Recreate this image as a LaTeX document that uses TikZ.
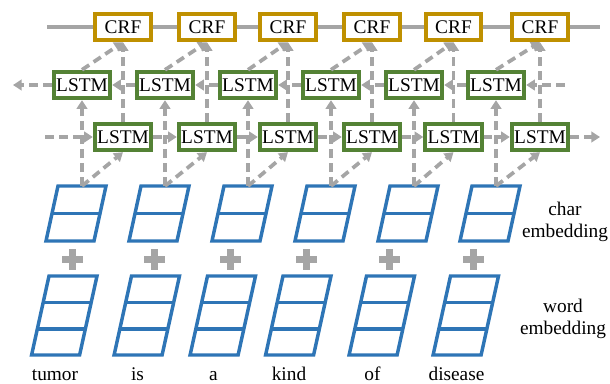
\documentclass[tikz,border=0pt]{standalone}
\usepackage{fontspec}
\setmainfont{Liberation Serif}
\newfontfamily\labelfont{Liberation Serif}
\usetikzlibrary{arrows.meta, positioning}

\definecolor{crfgold}{HTML}{BF9000}
\definecolor{lstmgreen}{HTML}{548235}
\definecolor{embblue}{HTML}{2E75B6}
\definecolor{linkgray}{HTML}{A5A5A5}

\tikzset{
  crfbox/.style={draw=crfgold, line width=2.8pt, fill=white, minimum width=41.5pt, minimum height=20pt, inner sep=0pt},
  lstmbox/.style={draw=lstmgreen, line width=2.8pt, fill=white, minimum width=42.5pt, minimum height=20pt, inner sep=0pt},
  flow/.style={draw=linkgray, line width=2.8pt, dash pattern=on 6.5pt off 4pt, -{Triangle[length=6.5pt,width=8pt]}},
  chain/.style={draw=linkgray, line width=2.8pt},
  emb/.style={draw=embblue, line width=2.6pt, line join=miter},
}

\begin{document}
\begin{tikzpicture}[x=0.75pt, y=-0.75pt, font=\labelfont\fontsize{14.5}{17}\selectfont]
    \useasboundingbox (0,0) rectangle (610,383);

    % One column per word: CRF, both LSTM layers, embeddings
    \foreach \i/\xa/\xb/\xc/\word in {1/123/82/73/tumor, 2/207/165/155.5/is, 3/288/248/231.5/a,
                                      4/372/331/307/kind, 5/453.5/414/390.5/of, 6/540/496/474.5/disease}{
        \node[crfbox] (crf\i) at (\xa,27) {CRF};
        \node[lstmbox] (bw\i) at (\xb,85) {LSTM};
        \node[lstmbox] (fw\i) at (\xa,137) {LSTM};

        % char embedding
        \draw[emb] (\xb-24,186) -- (\xb+24,186) -- (\xb+12,241) -- (\xb-36,241) -- cycle;
        \draw[emb] (\xb-30,213.5) -- (\xb+18,213.5);
        \coordinate (ch\i) at (\xb,186);

        % plus
        \fill[linkgray] (\xc-11.5,255.5) rectangle (\xc+9.5,262.5);
        \fill[linkgray] (\xc-4.5,248.5) rectangle (\xc+2.5,269.5);

        % word embedding
        \draw[emb] (\xc-24,276) -- (\xc+24,276) -- (\xc+6.6,355) -- (\xc-41.4,355) -- cycle;
        \draw[emb] (\xc-29.8,302.5) -- (\xc+18.2,302.5);
        \draw[emb] (\xc-35.6,329) -- (\xc+12.4,329);

        \node[anchor=base] (w\i) at (\xc-18,380) {\word};
    }

    \node[align=center] (charlbl) at (565,222) {char\\embedding};
    \node[align=center] (wordlbl) at (563,319) {word\\embedding};

    % free ends of the chains
    \coordinate (crfin) at (47,27);
    \coordinate (crfout) at (600,27);
    \coordinate (fwin) at (45,137);
    \coordinate (fwout) at (600,137);
    \coordinate (bwin) at (565,85);
    \coordinate (bwout) at (13,85);

    % links between neighbours
    \draw[chain] (crfin) -- (crf1);
    \draw[chain] (crf6) -- (crfout);
    \draw[flow] (fwin) -- (fw1);
    \draw[flow] (fw6) -- (fwout);
    \draw[flow] (bwin) -- (bw6);
    \draw[flow] (bw1) -- (bwout);
    \foreach \i/\j in {1/2, 2/3, 3/4, 4/5, 5/6}{
        \draw[chain] (crf\i) -- (crf\j);
        \draw[flow] (fw\i) -- (fw\j);
        \draw[flow] (bw\j) -- (bw\i);
    }

    % upward links
    \foreach \i in {1,...,6}{
        \draw[flow] (ch\i) -- (bw\i);
        \draw[flow] (ch\i) -- (fw\i.south);
        \draw[flow] (fw\i) -- (crf\i);
        \draw[flow] (bw\i.north) -- (crf\i.south);
    }
\end{tikzpicture}
\end{document}
